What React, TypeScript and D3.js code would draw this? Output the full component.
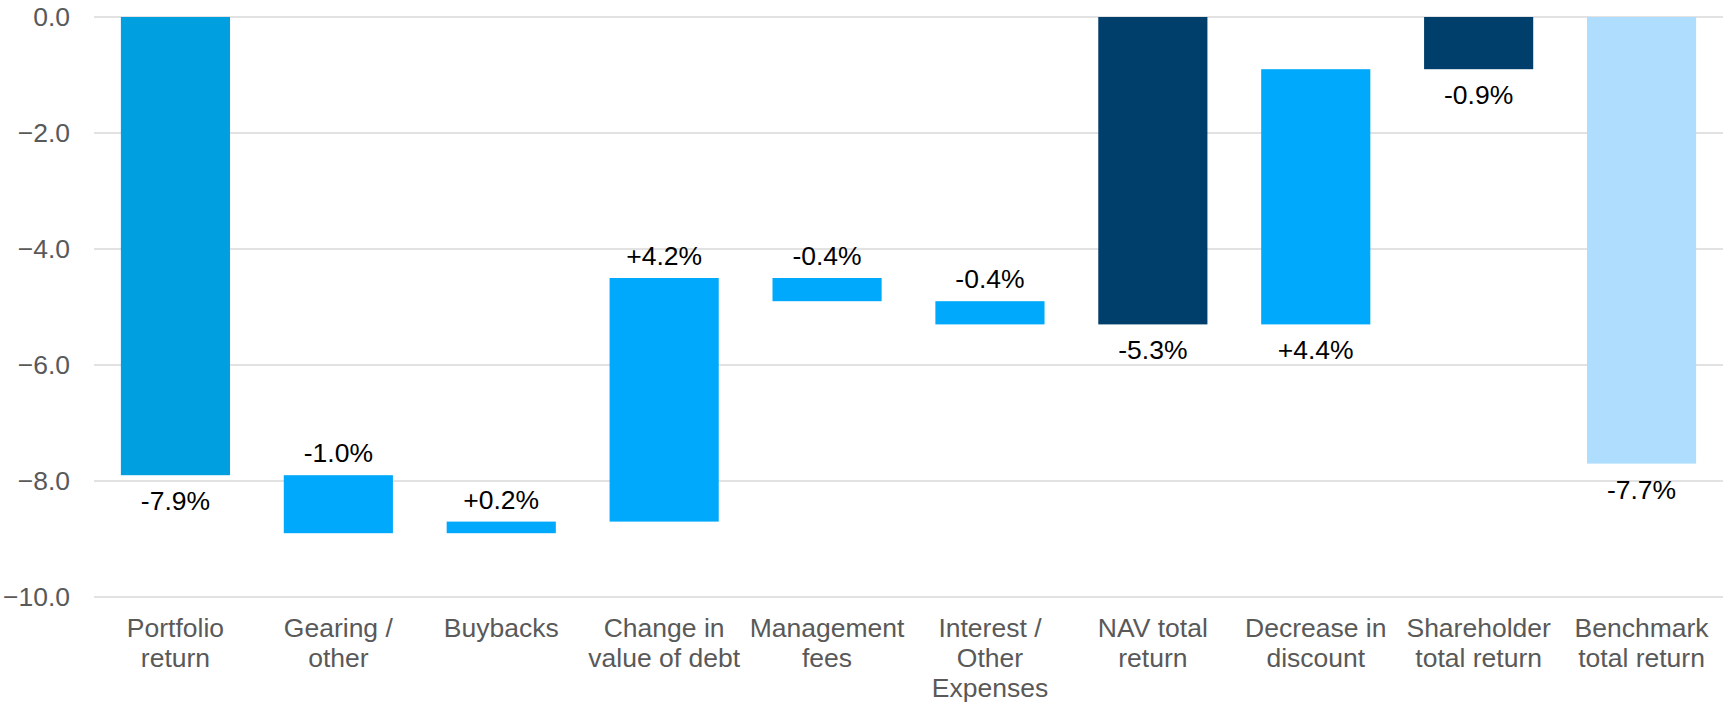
import React from "react";
import * as d3 from "d3";

const categories: string[][] = [
  ["Portfolio", "return"],
  ["Gearing /", "other"],
  ["Buybacks"],
  ["Change in", "value of debt"],
  ["Management", "fees"],
  ["Interest /", "Other", "Expenses"],
  ["NAV total", "return"],
  ["Decrease in", "discount"],
  ["Shareholder", "total return"],
  ["Benchmark", "total return"],
];
const barStart: number[] = [0, -7.9, -8.9, -8.7, -4.5, -4.9, 0, -5.3, 0, 0];
const barEnd: number[] = [-7.9, -8.9, -8.7, -4.5, -4.9, -5.3, -5.3, -0.9, -0.9, -7.7];
const valueLabels: string[] = ["-7.9%", "-1.0%", "+0.2%", "+4.2%", "-0.4%", "-0.4%", "-5.3%", "+4.4%", "-0.9%", "-7.7%"];
const labelSide: ("top" | "bottom")[] = ["bottom", "top", "top", "top", "top", "top", "bottom", "bottom", "bottom", "bottom"];
const barKind: string[] = ["portfolio", "change", "change", "change", "change", "change", "total", "change", "total", "benchmark"];
const yTicks: number[] = [0, -2, -4, -6, -8, -10];

const colors: Record<string, string> = {
  portfolio: "#009FDF",
  change: "#00A9FB",
  total: "#003F6B",
  benchmark: "#AEDDFD",
};

const W = 1734;
const H = 704;
const left = 94;
const right = 1723;
const top = 17;
const bottom = 597;
const FONT = "'Liberation Sans', Arial, sans-serif";
const FS = 26.5;

export default function App() {
  const x = d3
    .scaleBand<number>()
    .domain(d3.range(categories.length))
    .range([left, right])
    .paddingInner(0.33)
    .paddingOuter(0.165);
  const y = d3.scaleLinear().domain([-10, 0]).range([bottom, top]);
  const fmt = d3.format(".1f");

  return (
    <svg
      width={W}
      height={H}
      style={{ position: "absolute", left: 0, top: 0, background: "#fff" }}
      fontFamily={FONT}
    >
      {yTicks.map((t) => (
        <g key={t}>
          <line x1={left} x2={right} y1={y(t)} y2={y(t)} stroke="#d9d9d9" strokeWidth={1.5} />
          <text
            x={70}
            y={y(t)}
            textAnchor="end"
            dominantBaseline="central"
            fontSize={FS}
            fill="#595959"
          >
            {fmt(t)}
          </text>
        </g>
      ))}
      {categories.map((c, i) => {
        const hi = Math.max(barStart[i], barEnd[i]);
        const lo = Math.min(barStart[i], barEnd[i]);
        const bx = x(i)!;
        const bw = x.bandwidth();
        const cx = bx + bw / 2;
        const ly = labelSide[i] === "top" ? y(hi) - 13 : y(lo) + 35;
        return (
          <g key={i}>
            <rect x={bx} y={y(hi)} width={bw} height={y(lo) - y(hi)} fill={colors[barKind[i]]} />
            <text x={cx} y={ly} textAnchor="middle" fontSize={FS} fill="#000">
              {valueLabels[i]}
            </text>
            <text textAnchor="middle" fontSize={FS} fill="#595959">
              {c.map((line, j) => (
                <tspan key={j} x={cx} y={bottom + 40 + j * 30}>
                  {line}
                </tspan>
              ))}
            </text>
          </g>
        );
      })}
    </svg>
  );
}
